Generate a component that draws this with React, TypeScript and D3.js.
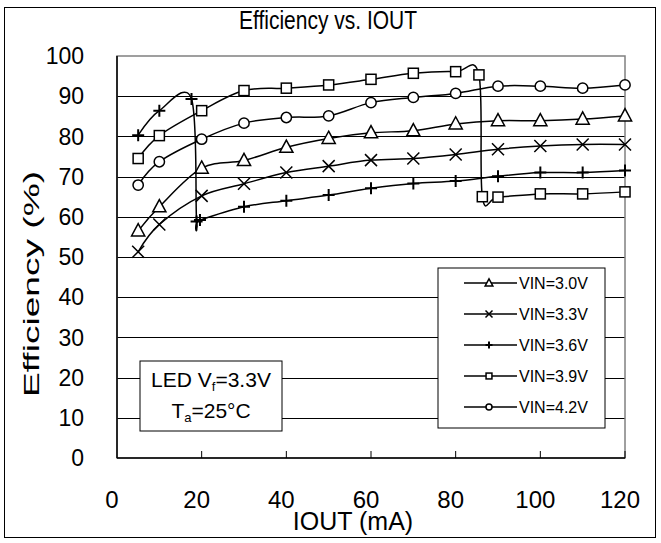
import React from 'react';
import * as d3 from 'd3';

// ---- data ----
const xTicks = [0, 20, 40, 60, 80, 100, 120];
const yTicks = [0, 10, 20, 30, 40, 50, 60, 70, 80, 90, 100];

const iout = [5, 10, 20, 30, 40, 50, 60, 70, 80, 90, 100, 110, 120];
const vin30 = [56.5, 62.5, 72.1, 74.0, 77.3, 79.5, 80.9, 81.4, 83.1, 83.9, 83.9, 84.3, 85.1];
const vin33 = [51.3, 58.1, 65.2, 68.2, 71.0, 72.6, 74.1, 74.5, 75.5, 76.8, 77.6, 78.0, 78.0];
const iout36 = [5, 10, 17.6, 18.8, 19.6, 30, 40, 50, 60, 70, 80, 90, 100, 110, 120];
const vin36 = [80.3, 86.4, 89.3, 58.8, 59.2, 62.5, 64.0, 65.4, 67.1, 68.3, 68.9, 70.1, 71.0, 71.0, 71.5];
const iout39 = [5, 10, 20, 30, 40, 50, 60, 70, 80, 85.5, 86.3, 90, 100, 110, 120];
const vin39 = [74.5, 80.2, 86.4, 91.4, 92.0, 92.8, 94.2, 95.7, 96.1, 95.3, 65.0, 64.9, 65.7, 65.7, 66.2];
const vin42 = [67.9, 73.7, 79.3, 83.3, 84.7, 85.1, 88.4, 89.7, 90.7, 92.5, 92.5, 92.0, 92.8];

type Marker = 'triangle' | 'x' | 'plus' | 'square' | 'circle';
const seriesList: { name: string; xs: number[]; ys: number[]; marker: Marker }[] = [
  { name: 'VIN=3.0V', xs: iout, ys: vin30, marker: 'triangle' },
  { name: 'VIN=3.3V', xs: iout, ys: vin33, marker: 'x' },
  { name: 'VIN=3.6V', xs: iout36, ys: vin36, marker: 'plus' },
  { name: 'VIN=3.9V', xs: iout39, ys: vin39, marker: 'square' },
  { name: 'VIN=4.2V', xs: iout, ys: vin42, marker: 'circle' },
];

const FONT = 'Arial, "Liberation Sans", sans-serif';

function MarkerShape({ type, x, y, s }: { type: Marker; x: number; y: number; s: number }) {
  const common = { fill: 'white', stroke: 'black', strokeWidth: 1.5 };
  switch (type) {
    case 'triangle':
      return <path d={`M${x},${y - s * 0.6}L${x + s * 0.55},${y + s * 0.42}L${x - s * 0.55},${y + s * 0.42}Z`} {...common} />;
    case 'x':
      return <path d={`M${x - s / 2},${y - s / 2}L${x + s / 2},${y + s / 2}M${x - s / 2},${y + s / 2}L${x + s / 2},${y - s / 2}`} {...common} fill="none" />;
    case 'plus':
      return <path d={`M${x - s / 2},${y}L${x + s / 2},${y}M${x},${y - s / 2}L${x},${y + s / 2}`} {...common} fill="none" strokeWidth={2} />;
    case 'square':
      return <rect x={x - s * 0.42} y={y - s * 0.42} width={s * 0.84} height={s * 0.84} {...common} />;
    case 'circle':
      return <circle cx={x} cy={y} r={s * 0.43} {...common} />;
  }
}

export default function App() {
  const W = 661, H = 543;
  const left = 117, right = 625, top = 56, bottom = 458;
  const x = d3.scaleLinear().domain([0, 120]).range([left, right]);
  const y = d3.scaleLinear().domain([0, 100]).range([bottom, top]);
  const line = d3.line<[number, number]>().x(d => x(d[0])).y(d => y(d[1])).curve(d3.curveCardinal.tension(0));

  const legend = { x: 438, y: 268, w: 167, h: 160 };
  const ledBox = { x: 140, y: 361, w: 142, h: 70 };

  return (
    <svg width={W} height={H} style={{ position: 'absolute', left: 0, top: 0 }} fontFamily={FONT}>
      <rect x={0} y={0} width={W} height={H} fill="white" />
      <rect x={4.5} y={7.5} width={651} height={530} fill="none" stroke="black" />
      <g transform="translate(328,29) scale(1,1.2)">
        <text x={0} y={0} textAnchor="middle" fontSize={21}>Efficiency vs. IOUT</text>
      </g>

      {/* gridlines */}
      {yTicks.filter(t => t > 0 && t < 100).map(t => (
        <line key={t} x1={left} x2={right} y1={Math.round(y(t)) + 0.5} y2={Math.round(y(t)) + 0.5} stroke="black" strokeWidth={1} />
      ))}
      {/* plot frame */}
      <rect x={left} y={top} width={right - left} height={bottom - top} fill="none" stroke="#808080" strokeWidth={1.5} />
      <line x1={left} x2={left} y1={top} y2={bottom} stroke="black" strokeWidth={1.5} />
      <line x1={left} x2={right} y1={bottom} y2={bottom} stroke="black" strokeWidth={1.5} />
      {xTicks.filter(t => t > 0).map(t => (
        <line key={t} x1={x(t)} x2={x(t)} y1={bottom} y2={bottom - 7} stroke="black" strokeWidth={1} />
      ))}

      {/* tick labels */}
      {yTicks.map(t => (
        <text key={t} x={84} y={y(t)} dy="0.36em" textAnchor="end" fontSize={23}>{t}</text>
      ))}
      {xTicks.map(t => (
        <text key={t} x={x(t) - 5} y={508} textAnchor="middle" fontSize={24}>{t}</text>
      ))}
      <text transform={`translate(39,284) rotate(-90)`} textAnchor="middle" fontSize={22} textLength={226} lengthAdjust="spacingAndGlyphs">Efficiency (%)</text>
      <text x={353} y={530} textAnchor="middle" fontSize={25}>IOUT (mA)</text>

      {/* series */}
      {seriesList.map(s => {
        const pts = s.xs.map((v, i) => [v, s.ys[i]] as [number, number]);
        return (
          <g key={s.name}>
            <path d={line(pts) || ''} fill="none" stroke="black" strokeWidth={1.5} />
            {pts.map((p, i) => <MarkerShape key={i} type={s.marker} x={x(p[0])} y={y(p[1])} s={12} />)}
          </g>
        );
      })}

      {/* legend */}
      <rect x={legend.x} y={legend.y} width={legend.w} height={legend.h} fill="white" stroke="black" />
      {seriesList.map((s, i) => {
        const ly = 283 + i * 31;
        return (
          <g key={s.name}>
            <line x1={464} x2={517} y1={ly} y2={ly} stroke="black" strokeWidth={1.5} />
            <MarkerShape type={s.marker} x={489} y={ly} s={7} />
            <text x={519} y={ly} dy="0.36em" fontSize={16}>{s.name}</text>
          </g>
        );
      })}

      {/* LED box */}
      <rect x={ledBox.x} y={ledBox.y} width={ledBox.w} height={ledBox.h} fill="white" stroke="black" />
      <text x={211} y={387} textAnchor="middle" fontSize={21}>
        LED V<tspan fontSize={13} dy={4}>f</tspan><tspan dy={-4}>=3.3V</tspan>
      </text>
      <text x={211} y={418} textAnchor="middle" fontSize={21}>
        T<tspan fontSize={13} dy={4}>a</tspan><tspan dy={-4}>=25°C</tspan>
      </text>
    </svg>
  );
}
